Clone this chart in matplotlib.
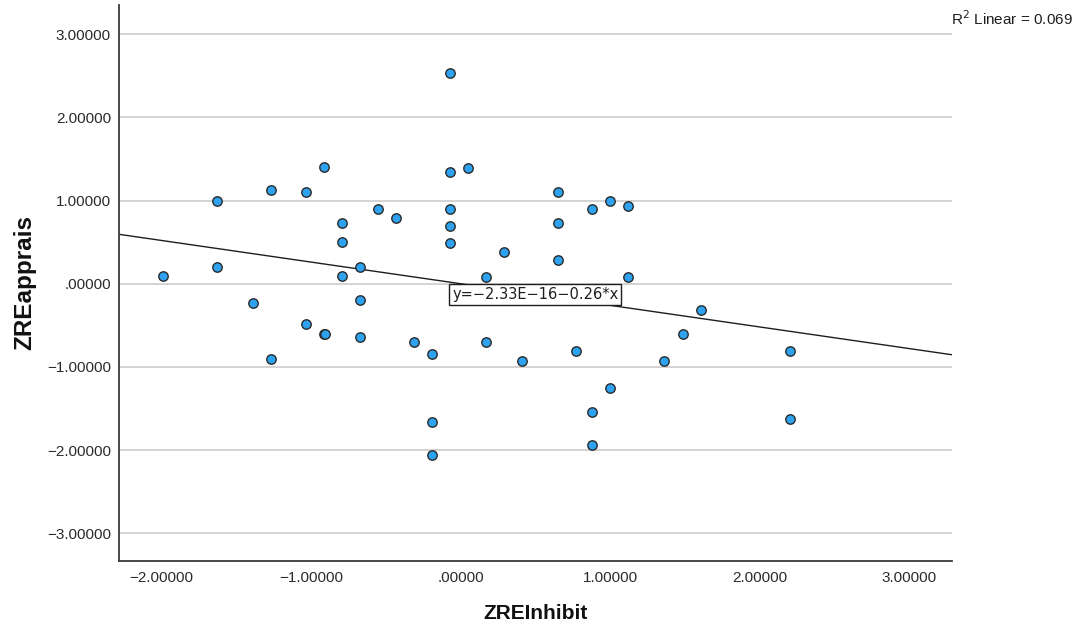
import matplotlib
matplotlib.use("Agg")
import matplotlib.pyplot as plt
import numpy as np
from matplotlib.ticker import FuncFormatter

# Standardized residuals
zre_inhibit = [-1.99, -1.63, -1.63, -1.39, -1.27, -1.27, -1.03, -1.03, -0.91, -0.91,
               -0.905, -0.79, -0.79, -0.79, -0.67, -0.67, -0.67, -0.55, -0.43, -0.31,
               -0.19, -0.19, -0.19, -0.07, -0.07, -0.07, -0.07, -0.07, 0.05, 0.17,
               0.17, 0.29, 0.41, 0.65, 0.65, 0.65, 0.77, 0.88, 0.88, 0.88,
               1.00, 1.00, 1.12, 1.12, 1.36, 1.49, 1.61, 2.20, 2.20]
zre_apprais = [0.09, 0.99, 0.20, -0.23, 1.13, -0.90, 1.10, -0.49, 1.40, -0.61,
               -0.605, 0.73, 0.50, 0.09, 0.20, -0.20, -0.64, 0.90, 0.79, -0.70,
               -0.84, -1.66, -2.06, 2.53, 1.34, 0.90, 0.69, 0.49, 1.39, 0.08,
               -0.70, 0.38, -0.93, 1.10, 0.73, 0.29, -0.81, 0.90, -1.54, -1.94,
               0.99, -1.25, 0.93, 0.08, -0.93, -0.61, -0.32, -0.81, -1.63]

# Fit line and summary
fit_intercept = -2.33e-16
fit_slope = -0.26
r_squared = 0.069

x_ticks = [-2, -1, 0, 1, 2, 3]
y_ticks = [-3, -2, -1, 0, 1, 2, 3]

plt.rcParams['font.family'] = ['Liberation Sans', 'DejaVu Sans']

fig = plt.figure(figsize=(10.82, 6.27), dpi=100)
ax = fig.add_axes([0.1103, 0.1053, 0.7693, 0.8867])

xlim = (-2.281, 3.283)
ylim = (-3.333, 3.35)
ax.set_xlim(*xlim)
ax.set_ylim(*ylim)

ax.set_xticks(x_ticks)
ax.set_yticks(y_ticks)


def spss_fmt(v, pos=None):
    s = f"{abs(v):.5f}"
    if s.startswith("0"):
        s = s[1:]
    return ("\u2212" + s) if v < 0 else s


ax.xaxis.set_major_formatter(FuncFormatter(spss_fmt))
ax.yaxis.set_major_formatter(FuncFormatter(spss_fmt))
ax.tick_params(axis='both', length=0, labelsize=11, colors='#2b2b2b')
ax.tick_params(axis='x', pad=7)
ax.tick_params(axis='y', pad=6)

ax.grid(axis='y', color='#c8c8c8', linewidth=1.1)
ax.set_axisbelow(True)
for side in ('top', 'right'):
    ax.spines[side].set_visible(False)
for side in ('left', 'bottom'):
    ax.spines[side].set_color('#3a3a3a')
    ax.spines[side].set_linewidth(1.3)

# Fit line across the full x range
xs = np.array(xlim)
ax.plot(xs, fit_intercept + fit_slope * xs, color='#1e1e1e', linewidth=1.0, zorder=2)

ax.scatter(zre_inhibit, zre_apprais, s=46, facecolor='#2ea2ee', edgecolor='#2a2a2a',
           linewidth=1.0, zorder=3)

eq_label = "y=\u22122.33E\u221216\u22120.26*x"
ax.text(0.50, -0.13, eq_label, ha='center', va='center', fontsize=10.5, color='#1e1e1e',
        family=['DejaVu Sans'],
        bbox=dict(boxstyle='square,pad=0.2', facecolor='white', edgecolor='#1e1e1e',
                  linewidth=1.0), zorder=4)

fig.text(0.9917, 0.971, f"R$^2$ Linear = {r_squared:.3f}", ha='right', va='center',
         fontsize=11, color='#1e1e1e')

ax.set_xlabel("ZREInhibit", fontsize=15, fontweight='bold', color='#111111', labelpad=14)
ax.set_ylabel("ZREapprais", fontsize=17.5, fontweight='bold', color='#111111', labelpad=7.5)

fig.savefig("out.png", dpi=100)
